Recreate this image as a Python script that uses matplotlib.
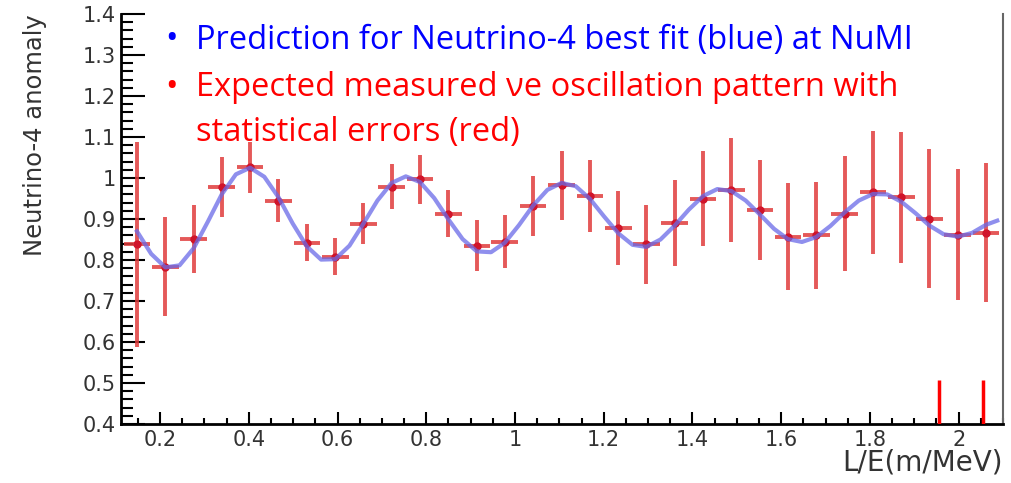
import matplotlib
matplotlib.use("Agg")
import matplotlib.pyplot as plt
from matplotlib.ticker import MultipleLocator, FuncFormatter

# measured points (L/E in m/MeV) with statistical errors
data_x = [0.148, 0.212, 0.276, 0.339, 0.403, 0.467, 0.531, 0.595, 0.658, 0.722,
          0.786, 0.850, 0.914, 0.977, 1.041, 1.105, 1.169, 1.233, 1.296, 1.360,
          1.424, 1.488, 1.552, 1.615, 1.679, 1.743, 1.807, 1.871, 1.934, 1.998, 2.062]
data_y = [0.838, 0.784, 0.852, 0.979, 1.026, 0.945, 0.842, 0.808, 0.889, 0.979,
          0.997, 0.913, 0.835, 0.845, 0.931, 0.982, 0.957, 0.879, 0.838, 0.891,
          0.950, 0.970, 0.923, 0.857, 0.860, 0.913, 0.965, 0.953, 0.901, 0.862, 0.867]
data_err = [0.250, 0.120, 0.083, 0.073, 0.063, 0.053, 0.045, 0.045, 0.050, 0.054,
            0.060, 0.058, 0.063, 0.065, 0.073, 0.085, 0.088, 0.090, 0.097, 0.105,
            0.115, 0.127, 0.122, 0.130, 0.130, 0.140, 0.150, 0.160, 0.170, 0.160, 0.170]
bin_half = 0.03

# best fit prediction (blue)
fit_x = [0.148, 0.180, 0.212, 0.244, 0.276, 0.308, 0.339, 0.371, 0.403, 0.435,
         0.467, 0.499, 0.531, 0.563, 0.595, 0.627, 0.658, 0.690, 0.722, 0.754,
         0.786, 0.818, 0.850, 0.882, 0.914, 0.946, 0.977, 1.009, 1.041, 1.073,
         1.105, 1.137, 1.169, 1.201, 1.233, 1.265, 1.296, 1.328, 1.360, 1.392,
         1.424, 1.456, 1.488, 1.520, 1.552, 1.584, 1.615, 1.647, 1.679, 1.711,
         1.743, 1.775, 1.807, 1.839, 1.871, 1.903, 1.934, 1.966, 1.998, 2.030,
         2.062, 2.087]
fit_y = [0.870, 0.815, 0.782, 0.787, 0.829, 0.894, 0.960, 1.009, 1.025, 1.003,
         0.953, 0.889, 0.833, 0.801, 0.802, 0.835, 0.888, 0.945, 0.988, 1.004,
         0.990, 0.951, 0.899, 0.851, 0.821, 0.819, 0.842, 0.885, 0.933, 0.971,
         0.988, 0.980, 0.949, 0.906, 0.865, 0.837, 0.832, 0.850, 0.884, 0.923,
         0.956, 0.973, 0.968, 0.945, 0.911, 0.876, 0.851, 0.844, 0.856, 0.883,
         0.916, 0.945, 0.961, 0.960, 0.942, 0.914, 0.884, 0.863, 0.857, 0.866,
         0.886, 0.896]

# red markers at the bottom right
mark_x = [1.955, 2.055]
mark_top = 0.507

fig = plt.figure(figsize=(10.12, 4.83), dpi=100)
ax = fig.add_axes([121 / 1012, 1 - 424 / 483, (1003 - 121) / 1012, (424 - 14) / 483])

ax.errorbar(data_x, data_y, yerr=data_err, xerr=bin_half, fmt='none',
            ecolor='#e03c3c', elinewidth=2.8, alpha=0.85, capsize=0, zorder=2)
ax.plot(data_x, data_y, 'o', color='#d0142a', ms=5, zorder=3)
ax.plot(fit_x, fit_y, color='#6a6ae8', lw=3, alpha=0.75, zorder=4)
ax.vlines(mark_x, 0.4, mark_top, color='red', lw=2.5, zorder=5)

ax.set_xlim(0.112, 2.10)
ax.set_ylim(0.4, 1.4)

ax.xaxis.set_major_locator(MultipleLocator(0.2))
ax.xaxis.set_minor_locator(MultipleLocator(0.05))
ax.yaxis.set_major_locator(MultipleLocator(0.1))
ax.yaxis.set_minor_locator(MultipleLocator(0.02))
fmt = FuncFormatter(lambda v, p: '%g' % round(v, 2))
ax.xaxis.set_major_formatter(fmt)
ax.yaxis.set_major_formatter(fmt)

ax.tick_params(axis='x', which='major', direction='in', length=9, width=1.5,
               labelsize=15, pad=4, labelcolor='#333333', top=False)
ax.tick_params(axis='x', which='minor', direction='in', length=4.5, width=1.5, top=False)
ax.tick_params(axis='y', which='major', direction='in', length=17, width=1.5,
               labelsize=15, pad=4, labelcolor='#333333', right=False)
ax.tick_params(axis='y', which='minor', direction='in', length=8.5, width=1.5, right=False)

ax.spines['top'].set_visible(False)
ax.spines['right'].set_color('#666666')
ax.spines['right'].set_linewidth(1.5)
ax.spines['left'].set_linewidth(2)
ax.spines['bottom'].set_linewidth(2)

ax.set_xlabel('L/E(m/MeV)', loc='right', fontsize=20, color='#333333')
ax.xaxis.set_label_coords(1.0, -0.095)
ax.xaxis.label.set_va('center')
ax.set_ylabel('Neutrino-4 anomaly', loc='top', fontsize=17.5, color='#333333')
ax.yaxis.set_label_coords(-0.0975, 1.0)
ax.yaxis.label.set_va('center')

# slide annotation
lines = [('Prediction for Neutrino-4 best fit (blue) at NuMI', 'blue', 40, True),
         ('Expected measured \u03bde oscillation pattern with', 'red', 87, True),
         ('statistical errors (red)', 'red', 133, False)]
for txt, col, ypx, bullet in lines:
    if bullet:
        fig.text(172 / 1012, 1 - ypx / 483, '\u2022', color=col, fontsize=24,
                 family='Open Sans', ha='center', va='center')
    fig.text(196 / 1012, 1 - ypx / 483, txt, color=col, fontsize=23.5,
             family='Open Sans', ha='left', va='center')

plt.savefig('out.png', dpi=100)
